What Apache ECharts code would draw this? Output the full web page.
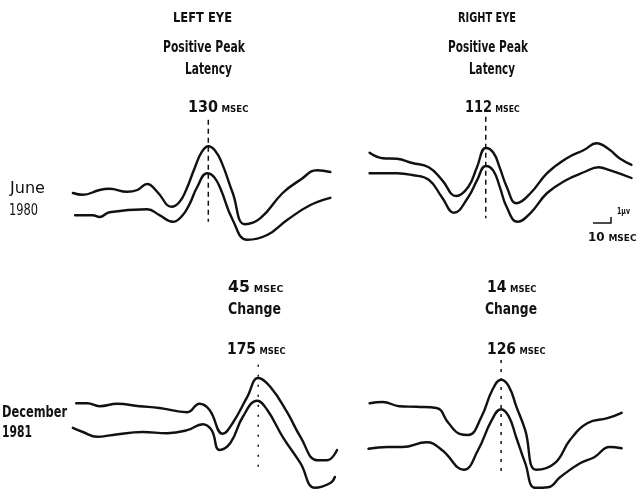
<!DOCTYPE html>
<html>
<head>
<meta charset="utf-8">
<script src="https://cdn.jsdelivr.net/npm/echarts@6/dist/echarts.min.js"></script>
<style>
html,body{margin:0;padding:0;background:#fff;}
#c{width:637px;height:495px;}
</style>
</head>
<body>
<div id="c"></div>
<script>
// time (msec) , amplitude (µV, display offset) pairs
const leftJuneA = [[8,9.5],[17,9.2],[32,10.0],[41,10.2],[57,9.7],[66,10.0],[75,11.0],[84,9.7],[97,7.2],[104,8.0],[110,10.0],[118,13.8],[124,16.3],[130,17.3],[136,16.6],[142,14.6],[152,9.5],[163,4.3],[177,5.3],[197,9.5],[213,11.7],[228,13.3],[240,13.0]];
const leftJuneB = [[10,5.8],[26,5.8],[32,5.5],[41,6.3],[75,6.8],[86,5.8],[98,4.7],[106,5.6],[113,7.6],[120,10.5],[129,12.8],[135,12.2],[141,10.2],[152,5.0],[165,1.7],[183,2.5],[201,5.0],[222,7.5],[240,8.7]];
const rightJuneA = [[6,16.2],[18,15.3],[31,15.2],[45,14.5],[60,13.8],[72,11.7],[85,9.0],[96,10.5],[104,13.8],[112,17.0],[119,16.2],[125,13.6],[131,10.6],[140,7.8],[153,9.5],[168,12.8],[186,15.3],[202,16.7],[213,17.8],[225,16.7],[234,15.3],[245,14.2]];
const rightJuneB = [[6,12.8],[31,12.8],[45,12.5],[60,11.7],[72,8.8],[83,6.2],[96,8.8],[104,11.6],[112,14.0],[119,13.2],[125,10.4],[131,7.2],[141,4.7],[153,6.2],[168,9.5],[186,11.7],[202,13.0],[215,13.8],[225,13.3],[245,12.0]];
const leftDecA = [[11,14.8],[21,14.8],[32,14.3],[48,14.7],[68,14.3],[86,14.0],[111,13.3],[122,14.7],[131,13.7],[143,9.7],[152,11.5],[165,15.8],[175,19.0],[186,17.5],[201,13.3],[213,9.2],[228,5.3],[237,5.3],[246,7.0]];
const leftDecB = [[8,10.7],[17,10.0],[30,9.2],[44,9.5],[71,10.0],[93,9.8],[111,10.3],[125,11.3],[133,10.3],[140,7.0],[150,8.2],[161,12.5],[174,15.2],[183,13.7],[197,9.2],[213,4.8],[226,0.7],[240,1.5],[244,2.5]];
const rightDecA = [[6,14.8],[18,15.0],[33,14.3],[49,14.2],[67,14.0],[78,11.5],[88,9.7],[96,9.5],[108,12.5],[118,17.0],[126,18.7],[133,17.6],[140,14.2],[148,10.3],[158,3.7],[175,4.8],[189,8.7],[205,11.5],[223,12.3],[236,13.2]];
const rightDecB = [[5,7.2],[22,7.5],[36,7.5],[58,8.3],[72,7.0],[92,3.7],[105,7.0],[117,11.8],[126,13.8],[133,12.6],[140,9.0],[148,4.8],[157,0.7],[169,0.8],[180,2.5],[198,4.8],[211,5.8],[225,7.5],[236,7.3]];
// peak latency markers: [latency msec, top µV, bottom µV]
const peakLeftJune = [130, 21.7, 4.7];
const peakRightJune = [112, 22.2, 5.3];
const peakLeftDec = [175, 21.2, 4.0];
const peakRightDec = [126, 22.0, 2.8];
// texts
const eyeLabels = ['LEFT EYE', 'RIGHT EYE'];
const dateLabels = [['June', '1980'], ['December', '1981']];
const changeLabels = [45, 14];

const FAMILY = '"DejaVu Sans Condensed", "DejaVu Sans", sans-serif';
const INK = '#111';

const grids = [
  {left: 64, top: 106, width: 277.5, height: 144},
  {left: 363, top: 106, width: 277.5, height: 144},
  {left: 64, top: 348, width: 277.5, height: 144},
  {left: 363, top: 348, width: 277.5, height: 144}
];
const xAxes = grids.map((g, i) => ({type: 'value', gridIndex: i, min: 0, max: 250, show: false}));
const yAxes = grids.map((g, i) => ({type: 'value', gridIndex: i, min: 0, max: 24, show: false}));

function trace(data, gi) {
  return {type: 'line', xAxisIndex: gi, yAxisIndex: gi, data: data, smooth: 0.45,
    showSymbol: false, symbol: 'none', silent: true, animation: false,
    lineStyle: {color: INK, width: 2.4, cap: 'round', join: 'round'}};
}
function peakLine(p, gi, dash) {
  return {type: 'line', xAxisIndex: gi, yAxisIndex: gi, data: [[p[0], p[1]], [p[0], p[2]]],
    showSymbol: false, symbol: 'none', silent: true, animation: false,
    lineStyle: {color: INK, width: 1.5, type: dash}};
}

const series = [
  trace(leftJuneA, 0), trace(leftJuneB, 0),
  trace(rightJuneA, 1), trace(rightJuneB, 1),
  trace(leftDecA, 2), trace(leftDecB, 2),
  trace(rightDecA, 3), trace(rightDecB, 3),
  peakLine(peakLeftJune, 0, [5, 4]),
  peakLine(peakRightJune, 1, [5, 4]),
  peakLine(peakLeftDec, 2, [2, 8]),
  peakLine(peakRightDec, 3, [3, 6])
];

// measuring helper so condensed lettering fits the original widths
const mctx = document.createElement('canvas').getContext('2d');
function measure(parts) {
  let w = 0;
  parts.forEach(p => { mctx.font = (p.w || 'bold') + ' ' + p.size + 'px ' + FAMILY; w += mctx.measureText(p.t).width; });
  return w;
}
function label(text, x0, x1, y, size, weight) {
  const w = measure([{t: text, size: size, w: weight}]);
  return {type: 'text', x: x0, y: y, scaleX: (x1 - x0) / w, silent: true,
    style: {text: text, fill: INK, fontSize: size, fontFamily: FAMILY, fontWeight: weight || 'bold',
      textAlign: 'left', textVerticalAlign: 'middle'}};
}
function msec(num, x0, x1, y, big, small) {
  const w = measure([{t: String(num) + ' ', size: big}, {t: 'MSEC', size: small}]);
  return {type: 'text', x: x0, y: y, scaleX: (x1 - x0) / w, silent: true,
    style: {text: '{n|' + num + '} {s|MSEC}', textAlign: 'left', textVerticalAlign: 'middle',
      rich: {n: {fontSize: big, fontFamily: FAMILY, fill: INK, fontWeight: 'bold', verticalAlign: 'bottom'},
             s: {fontSize: small, fontFamily: FAMILY, fill: INK, fontWeight: 'bold', verticalAlign: 'bottom', padding: [0, 0, 1, 0]}}}};
}

const graphic = [
  label(eyeLabels[0], 173, 232, 18, 14),
  label(eyeLabels[1], 458, 516, 18, 14),
  label('Positive Peak', 163, 245, 48, 16),
  label('Positive Peak', 448, 528, 48, 16),
  label('Latency', 185, 232, 70, 16),
  label('Latency', 469, 515, 70, 16),
  msec(peakLeftJune[0], 188, 250, 108, 15, 9),
  msec(peakRightJune[0], 465, 521, 108, 15, 9),
  label(dateLabels[0][0], 10, 45, 189, 15, 'normal'),
  label(dateLabels[0][1], 9, 38, 211, 15, 'normal'),
  label(dateLabels[1][0], 2, 67, 413, 15),
  label(dateLabels[1][1], 2, 32, 433, 15),
  msec(changeLabels[0], 228, 285, 288, 15, 9),
  label('Change', 228, 281, 310, 16),
  msec(peakLeftDec[0], 227, 287, 350, 15, 9),
  msec(changeLabels[1], 487, 538, 288, 15, 9),
  label('Change', 485, 537, 310, 16),
  msec(peakRightDec[0], 487, 547, 350, 15, 9),
  // calibration bar
  {type: 'polyline', silent: true, shape: {points: [[593, 223], [611, 223], [611, 217]]},
   style: {stroke: INK, lineWidth: 1.5, fill: null}},
  label('1µv', 617, 630, 212, 9),
  msec(10, 588, 637, 238, 12, 9)
];

const chart = echarts.init(document.getElementById('c'), null, {renderer: 'canvas'});
chart.setOption({
  backgroundColor: '#fff',
  animation: false,
  grid: grids,
  xAxis: xAxes,
  yAxis: yAxes,
  series: series,
  graphic: graphic
});
</script>
</body>
</html>
